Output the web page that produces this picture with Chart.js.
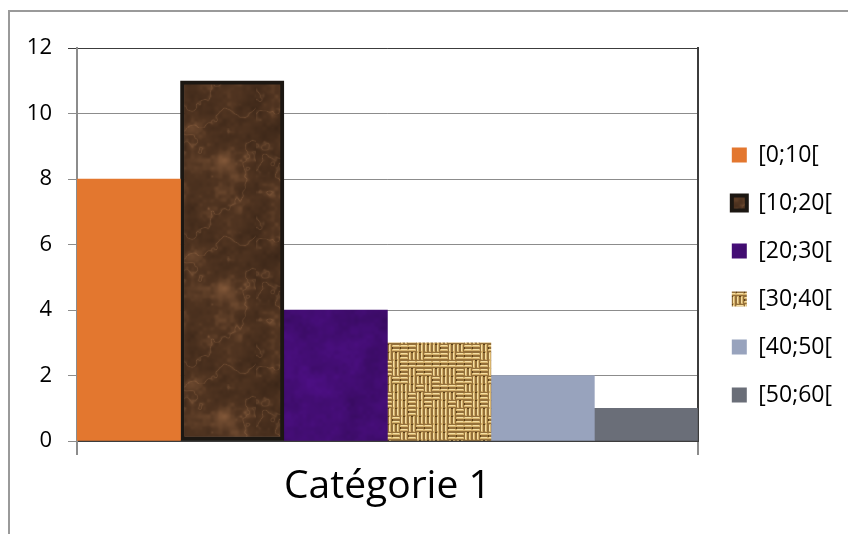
<!DOCTYPE html>
<html><head><meta charset="utf-8">
<script src="https://cdn.jsdelivr.net/npm/chart.js@4"></script>
<style>
html,body{margin:0;padding:0;background:#fff;overflow:hidden}
#frame{position:absolute;left:8px;top:10px;width:900px;height:600px;border-left:2px solid #9a9a9a;border-top:2px solid #9a9a9a}
#wrap{position:absolute;left:0;top:0;width:848px;height:534px}
</style></head><body>
<div id="frame"></div>
<div id="wrap"><canvas id="c"></canvas></div>
<script>
// ---- data ----
const categories = ['Catégorie 1'];
const seriesLabels = ['[0;10[', '[10;20[', '[20;30[', '[30;40[', '[40;50[', '[50;60['];
const seriesValues = [8, 11, 4, 3, 2, 1];
const yMin = 0, yMax = 12, yStep = 2;

// ---- textures (style only) ----
function hash(i, j, s) { const v = Math.sin(i * 127.1 + j * 311.7 + s * 74.7) * 43758.5453; return v - Math.floor(v); }
function vnoise(x, y, cell, n, s) {
  const gx = x / cell, gy = y / cell;
  const i0 = Math.floor(gx), j0 = Math.floor(gy);
  const fx = gx - i0, fy = gy - j0;
  const sx = fx * fx * (3 - 2 * fx), sy = fy * fy * (3 - 2 * fy);
  const w = (a) => ((a % n) + n) % n;
  const a = hash(w(i0), w(j0), s), b = hash(w(i0 + 1), w(j0), s);
  const c = hash(w(i0), w(j0 + 1), s), d = hash(w(i0 + 1), w(j0 + 1), s);
  return (a + (b - a) * sx) * (1 - sy) + (c + (d - c) * sx) * sy;
}
function fbm(x, y, size, s) {
  return 0.40 * vnoise(x, y, size / 4, 4, s) + 0.27 * vnoise(x, y, size / 8, 8, s + 1) +
         0.19 * vnoise(x, y, size / 16, 16, s + 2) + 0.14 * vnoise(x, y, size / 32, 32, s + 3);
}
function makeTex(size, fn) {
  const cv = document.createElement('canvas'); cv.width = cv.height = size;
  const cx = cv.getContext('2d'); const img = cx.createImageData(size, size);
  for (let y = 0; y < size; y++) for (let x = 0; x < size; x++) {
    const [r, g, b] = fn(x, y); const k = (y * size + x) * 4;
    img.data[k] = r; img.data[k + 1] = g; img.data[k + 2] = b; img.data[k + 3] = 255;
  }
  cx.putImageData(img, 0, 0);
  return document.getElementById('c').getContext('2d').createPattern(cv, 'repeat');
}
const marble = makeTex(128, (x, y) => {
  const n = fbm(x, y, 128, 3);
  const m = fbm(x, y, 128, 9);
  const v = Math.abs(Math.sin((x * 0.7 + y) * 0.045 + m * 7));
  const light = Math.pow(1 - v, 6) * 0.3 + Math.max(0, n - 0.5) * 0.9;
  const t = n;
  return [50 + 60 * t + 90 * light, 32 + 40 * t + 68 * light, 20 + 25 * t + 48 * light];
});
const purple = makeTex(128, (x, y) => {
  const n = fbm(x, y, 128, 21);
  const f = 0.68 + 0.45 * n;
  return [72 * f, 14 * f, 124 * f];
});
const burlap = (() => {
  const size = 96, cell = 8;
  const cv = document.createElement('canvas'); cv.width = cv.height = size;
  const cx = cv.getContext('2d');
  const n = size / cell;
  for (let i = 0; i < n; i++) for (let j = 0; j < n; j++) {
    const x = i * cell, y = j * cell;
    const hor = hash(i, j, 5) > 0.5;
    cx.fillStyle = '#94703a';
    cx.fillRect(x, y, cell, cell);
    cx.fillStyle = '#d6b26c';
    if (hor) { cx.fillRect(x, y + 1, cell, 2); cx.fillRect(x, y + 5, cell, 2); }
    else { cx.fillRect(x + 1, y, 2, cell); cx.fillRect(x + 5, y, 2, cell); }
    cx.fillStyle = '#f4dea2';
    if (hor) { cx.fillRect(x + 1, y + 1, cell - 2, 1); cx.fillRect(x + 1, y + 5, cell - 2, 1); }
    else { cx.fillRect(x + 1, y + 1, 1, cell - 2); cx.fillRect(x + 5, y + 1, 1, cell - 2); }
    cx.fillStyle = '#5a3f18';
    if (hor) cx.fillRect(x, y + 3, 1, 2);
    else cx.fillRect(x + 3, y, 2, 1);
  }
  return document.getElementById('c').getContext('2d').createPattern(cv, 'repeat');
})();

const fills = ['#E3772F', marble, purple, burlap, '#98A3BD', '#6A6E78'];
const borders = ['#E3772F', '#1c1712', purple, burlap, '#98A3BD', '#6A6E78'];
const borderWidths = [0, 4, 0, 0, 0, 0];

const FONT = '"Open Sans", "DejaVu Sans", sans-serif';
const GRID = '#8c8c8c', DARK = '#3c3c3c';

new Chart(document.getElementById('c'), {
  type: 'bar',
  data: {
    labels: categories,
    datasets: seriesLabels.map((l, i) => ({
      label: l,
      data: [seriesValues[i]],
      backgroundColor: fills[i],
      borderColor: borders[i],
      borderWidth: borderWidths[i],
      borderSkipped: false,
      barPercentage: 1,
      categoryPercentage: 1,
      xAxisID: 'x',
      yAxisID: 'y'
    }))
  },
  options: {
    responsive: true,
    maintainAspectRatio: false,
    animation: false,
    layout: { padding: { left: 0, right: 6, top: 32, bottom: 16 } },
    plugins: {
      tooltip: { enabled: false },
      legend: {
        position: 'right',
        labels: {
          font: { family: FONT, size: 23 },
          color: '#000',
          boxWidth: 15,
          boxHeight: 15,
          padding: 25
        }
      }
    },
    scales: {
      x: {
        position: 'bottom',
        grid: { display: true, drawOnChartArea: false, drawTicks: true, tickLength: 14, color: GRID, lineWidth: 2, offset: true },
        border: { display: true, color: DARK, width: 2 },
        ticks: { font: { family: FONT, size: 39 }, color: '#000', padding: 8 },
        afterFit(s) { s.height = 77; }
      },
      xTop: {
        type: 'category',
        axis: 'x',
        position: 'top',
        display: true,
        grid: { display: false, drawTicks: false },
        ticks: { display: false },
        border: { display: false },
        afterFit(s) { s.height = 16; }
      },
      y: {
        min: yMin, max: yMax,
        ticks: { stepSize: yStep, font: { family: FONT, size: 22 }, color: '#000', padding: 16 },
        grid: {
          color: (c) => (c.tick && (c.tick.value === yMax)) ? DARK : GRID,
          lineWidth: 1, tickLength: 9, drawTicks: true
        },
        border: { display: true, color: GRID, width: 2 },
        afterFit(s) { s.width = 77; }
      },
      y2: {
        position: 'right',
        display: true,
        grid: { display: false, drawTicks: false },
        ticks: { display: false },
        border: { display: true, color: DARK, width: 2 },
        afterFit(s) { s.width = 9; }
      }
    }
  }
});
</script>
</body></html>
